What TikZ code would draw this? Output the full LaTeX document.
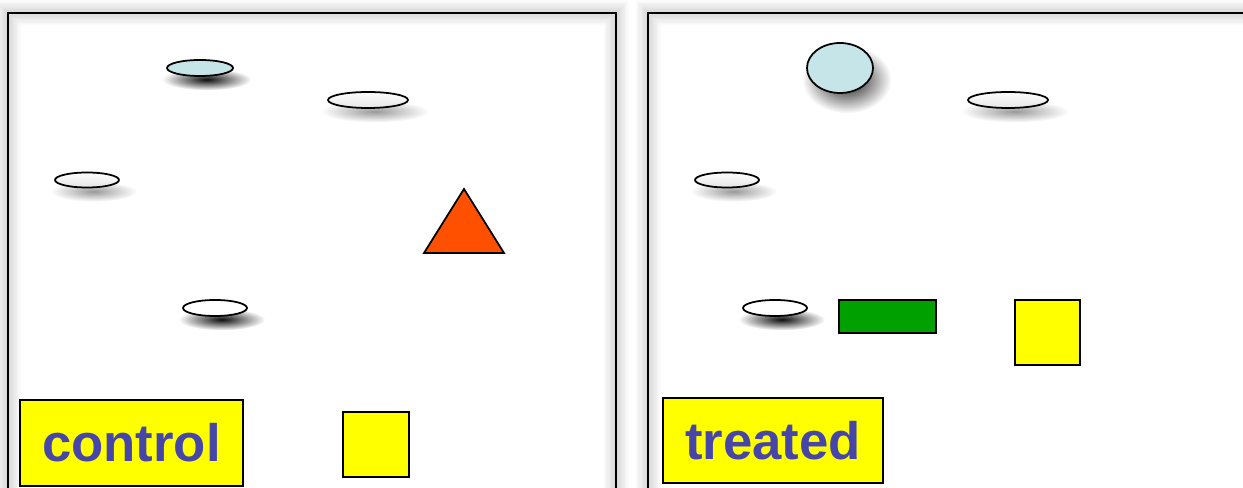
\documentclass[tikz,border=0pt]{standalone}
\usepackage{fontspec}
\setmainfont{Liberation Sans}
\usepackage{tikz}
\usetikzlibrary{shapes.geometric,shadows,fadings}
\definecolor{azzurro}{HTML}{C6E5E8}
\definecolor{arancio}{HTML}{FF5000}
\definecolor{verde}{HTML}{00A000}
\definecolor{giallo}{HTML}{FFFF00}
\definecolor{blu}{HTML}{4646AA}
\newcommand{\etichetta}[1]{\fontsize{30}{31}\selectfont\bfseries\color{blu}#1}
\tikzfading[name=sfumata,inner color=transparent!0,outer color=transparent!100]

\begin{document}
\begin{tikzpicture}[
  bordo/.style={ellipse,draw,line width=1pt,inner sep=0pt},
  macchia/.style={bordo,general shadow={fill=black,opacity=0.95,shadow xshift=0.1cm,shadow yshift=-0.17cm,shadow scale=1.35,path fading=sfumata}},
  macchiachiara/.style={bordo,top color=white,bottom color=black!10,general shadow={fill=black,opacity=0.4,shadow xshift=0.1cm,shadow yshift=-0.17cm,shadow scale=1.35,path fading=sfumata}},
  blocco/.style={draw,line width=1pt,inner sep=0pt},
  cartello/.style={blocco,fill=giallo,minimum width=#1,minimum height=1.71cm}
]
  \path[use as bounding box,clip] (0,0) rectangle (24.86,9.76);
  \foreach \w in {0.05,0.1,...,0.55} {
    \draw[black,opacity=0.015,line width=\w cm] (0.16,-1) rectangle (12.32,9.50);
    \draw[black,opacity=0.015,line width=\w cm] (12.96,-1) rectangle (26,9.50);
  }
  \draw[line width=1.2pt] (0.16,-1) rectangle (12.32,9.50);
  \draw[line width=1.2pt] (12.96,-1) rectangle (26,9.50);
  % control
  \node[macchia,fill=azzurro,minimum width=1.32cm,minimum height=0.32cm] (cblu) at (4.00,8.40) {};
  \node[macchiachiara,minimum width=1.60cm,minimum height=0.32cm] (cuno) at (7.36,7.76) {};
  \node[macchiachiara,minimum width=1.28cm,minimum height=0.30cm] (cdue) at (1.74,6.16) {};
  \node[macchia,fill=white,minimum width=1.28cm,minimum height=0.32cm] (cbianca) at (4.30,3.60) {};
  \draw[fill=arancio,line width=1pt] (9.28,5.98) -- (10.08,4.70) -- (8.48,4.70) -- cycle;
  \node[blocco,fill=giallo,minimum size=1.31cm] (cquadro) at (7.52,0.87) {};
  \node[cartello=4.46cm] (control) at (2.63,0.90) {\etichetta{control}};
  % treated
  \node[macchia,fill=azzurro,minimum width=1.32cm,minimum height=1.0cm] (tblu) at (16.80,8.40) {};
  \node[macchiachiara,minimum width=1.60cm,minimum height=0.32cm] (tuno) at (20.16,7.76) {};
  \node[macchiachiara,minimum width=1.28cm,minimum height=0.30cm] (tdue) at (14.54,6.16) {};
  \node[macchia,fill=white,minimum width=1.28cm,minimum height=0.32cm] (tbianca) at (15.50,3.60) {};
  \node[blocco,fill=verde,minimum width=1.94cm,minimum height=0.66cm] (tverde) at (17.75,3.43) {};
  \node[blocco,fill=giallo,minimum size=1.30cm] (tquadro) at (20.95,3.11) {};
  \node[cartello=4.40cm] (treated) at (15.46,0.95) {\etichetta{treated}};
\end{tikzpicture}
\end{document}
